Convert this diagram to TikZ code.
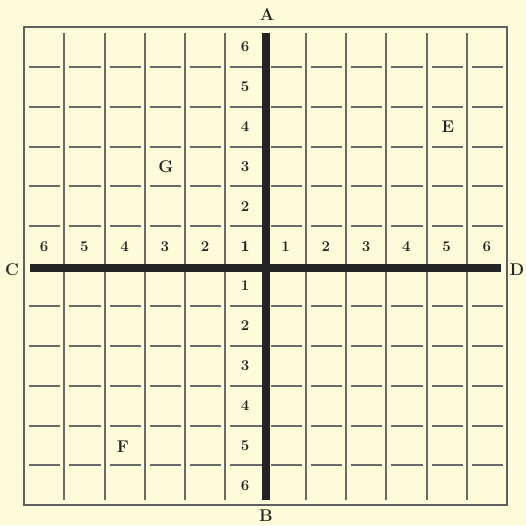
\documentclass[tikz,border=0pt]{standalone}
\usepackage{tikz}
\definecolor{paper}{HTML}{FDFBD8}
\definecolor{gridc}{HTML}{6A6A6A}
\definecolor{axisc}{HTML}{242424}
\begin{document}
\begin{tikzpicture}[x=1pt,y=-1pt,
  gridline/.style={draw=gridc,line width=2pt},
  border/.style={draw=gridc!90!black,line width=2.4pt},
  axisline/.style={draw=axisc,line width=8pt},
  numlbl/.style={font=\fontsize{15}{15}\selectfont\bfseries,text=axisc,inner sep=0pt},
  letlbl/.style={font=\fontsize{17}{17}\selectfont\bfseries,text=axisc,inner sep=0pt}]
\fill[paper] (0,0) rectangle (526,525);
\useasboundingbox (0,0) rectangle (526,525);
\def\xo{24}\def\yo{27}\def\cw{40.25}\def\ch{39.85}
% vertical grid lines
\foreach \i in {1,...,11}{
  \ifnum\i=6\else
  \draw[gridline] ({\xo+\cw*\i},33) -- ({\xo+\cw*\i},500);
  \fi}
% horizontal grid segments
\foreach \j in {1,...,11}{
  \ifnum\j=6\else
  \foreach \k in {0,...,11}{
    \draw[gridline] ({\xo+\cw*\k+5},{\yo+\ch*\j}) -- ({\xo+\cw*(\k+1)-4},{\yo+\ch*\j});
  }\fi}
% border
\draw[border] (\xo,\yo) rectangle (507,505);
% axes
\coordinate (atop) at (266,33);
\coordinate (abot) at (266,500);
\coordinate (cl) at (30,268);
\coordinate (dr) at (501,268);
\draw[axisline] (atop) -- (abot);
\draw[axisline] (cl) -- (dr);
% axis letters
\node[letlbl] (A) at (267,15) {A};
\node[letlbl] (B) at (266,515.5) {B};
\node[letlbl] (C) at (12,270) {C};
\node[letlbl] (D) at (517,270) {D};
% point letters
\node[letlbl] (E) at (448,127) {E};
\node[letlbl] (G) at (166,167) {G};
\node[letlbl] (F) at (123,447) {F};
% horizontal numbers
\foreach \k/\n in {0/6,1/5,2/4,3/3,4/2,5/1,6/1,7/2,8/3,9/4,10/5,11/6}{
  \node[numlbl] (h\k) at ({\xo+\cw*(\k+0.5)},247) {\n};}
% vertical numbers
\foreach \j/\n in {0/6,1/5,2/4,3/3,4/2,5/1,6/1,7/2,8/3,9/4,10/5,11/6}{
  \node[numlbl] (v\j) at (245,{\yo+\ch*(\j+0.5)}) {\n};}
\end{tikzpicture}
\end{document}
